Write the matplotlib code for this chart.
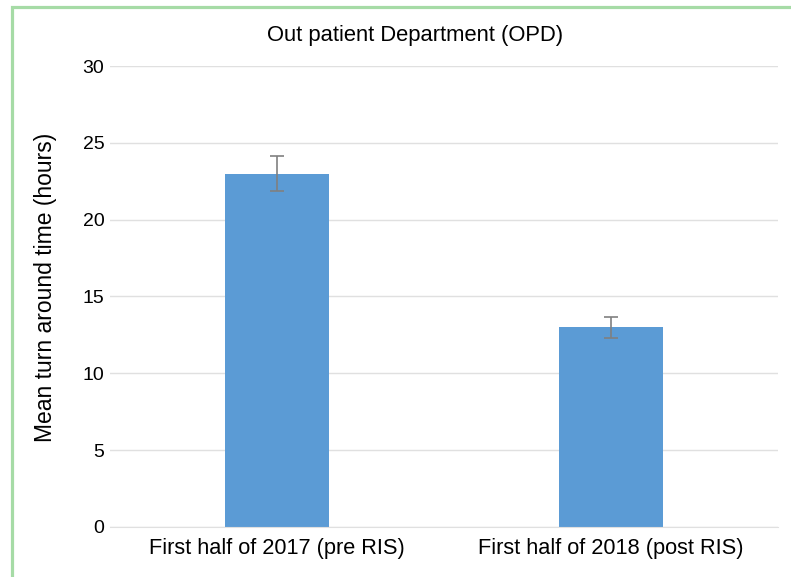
import matplotlib
matplotlib.use("Agg")
import matplotlib.pyplot as plt
from matplotlib.patches import Rectangle

categories = ["First half of 2017 (pre RIS)", "First half of 2018 (post RIS)"]
means = [23.0, 13.0]
errors = [1.15, 0.67]
yticks = [0, 5, 10, 15, 20, 25, 30]

plt.rcParams['font.family'] = ['Liberation Sans', 'DejaVu Sans']

fig = plt.figure(figsize=(7.91, 5.77), dpi=100)
ax = fig.add_axes([0.139, 0.0867, 0.8446, 0.7989])

x = range(len(categories))
ax.bar(x, means, width=0.31, color='#5b9bd5', zorder=2,
       yerr=errors, error_kw=dict(ecolor='#808080', elinewidth=1.2, capsize=5, capthick=1.2))

ax.set_xlim(-0.5, 1.5)
ax.set_ylim(0, 30)
ax.set_yticks(yticks)
ax.set_xticks(list(x))
ax.set_xticklabels(categories, fontsize=15.7)
ax.tick_params(axis='y', labelsize=14, length=0, pad=4)
ax.tick_params(axis='x', length=0, pad=8)
ax.grid(axis='y', color='#e0e0e0', linewidth=1, zorder=0)
for s in ['top', 'right', 'left']:
    ax.spines[s].set_visible(False)
ax.spines['bottom'].set_color('#e0e0e0')
ax.set_ylabel("Mean turn around time (hours)", fontsize=16.5)
ax.yaxis.set_label_coords(-0.080, 0.52)
ax.set_title("Out patient Department (OPD)", fontsize=15.8, x=0.457, pad=18)

# light green frame, only top and left edges fall inside the picture
fig.patches.append(Rectangle((12 / 791, -0.1), 1.2, 1.1 - 7 / 577, transform=fig.transFigure,
                             fill=False, edgecolor='#a6dba6', linewidth=2.3, clip_on=False))

fig.savefig("out.png", dpi=100)
